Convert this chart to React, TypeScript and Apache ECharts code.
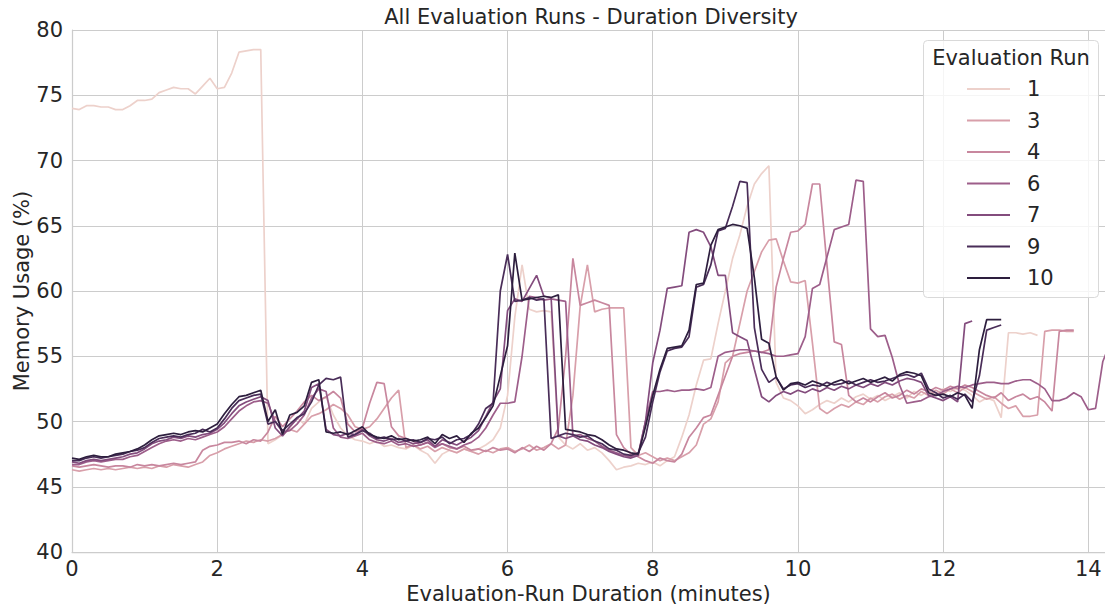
import React, { useEffect, useRef } from "react";
import * as echarts from "echarts";

const TITLE = "All Evaluation Runs - Duration Diversity";
const X_NAME = "Evaluation-Run Duration (minutes)";
const Y_NAME = "Memory Usage (%)";
const LEGEND_TITLE = "Evaluation Run";
const RUN_LABELS = ["1", "3", "4", "6", "7", "9", "10"];
const RUN_COLORS = ["#edd1cb", "#d89faa", "#c8879e", "#9d5e8a", "#834c7d", "#492d58", "#2d1e3e"];
const SAMPLE_STEP = 0.1; // minutes between samples

// memory usage (%) sampled every 0.1 minute from t = 0
const run1 = [
  74.0, 73.9, 74.2, 74.2, 74.1, 74.1, 73.9, 73.9, 74.2, 74.6,
  74.6, 74.7, 75.2, 75.4, 75.6, 75.5, 75.5, 75.1, 75.7, 76.3,
  75.5, 75.6, 76.7, 78.3, 78.4, 78.5, 78.5, 48.3, 48.6, 49.0,
  49.5, 50.3, 49.8, 51.0, 51.5, 51.9, 50.5, 49.5, 48.9, 48.6,
  48.5, 48.3, 48.5, 48.1, 48.2, 48.0, 47.9, 48.2, 47.8, 47.5,
  46.8, 47.5, 47.8, 47.6, 47.9, 47.7, 47.9, 48.2, 48.6, 49.5,
  52.0, 58.0, 62.0, 58.6, 58.4, 58.5, 58.4, 48.8, 48.2, 47.9,
  48.3, 47.8, 48.0, 47.6, 47.0, 46.3, 46.5, 46.6, 46.8, 46.7,
  46.9, 46.6, 47.0, 47.3, 48.8, 50.5, 52.8, 54.7, 54.8, 57.5,
  60.0, 62.5, 64.3, 66.5, 68.2, 69.0, 69.6, 53.0, 51.8, 51.6,
  51.2, 50.6, 50.9, 51.3, 51.6, 51.4, 51.8, 51.5, 51.9, 52.1,
  51.7, 52.0, 51.6, 51.9, 52.2, 51.8, 52.3, 52.0, 52.4, 52.1,
  52.5, 52.3, 52.6, 52.4, 52.0, 51.5, 51.8, 51.6, 50.3, 56.8,
  56.8, 56.7, 56.8, 56.6,
];
const run3 = [
  46.3, 46.2, 46.3, 46.4, 46.3, 46.4, 46.3, 46.4, 46.5, 46.4,
  46.5, 46.4, 46.6, 46.5, 46.7, 46.6, 46.5, 46.7, 46.9, 47.4,
  47.6, 47.9, 48.1, 48.3, 48.5, 48.4, 48.6, 48.5, 48.7, 49.0,
  49.4, 49.2, 49.8, 50.4, 50.6, 50.9, 51.3, 51.0, 50.5, 49.6,
  49.4, 49.6, 50.2, 51.0, 51.8, 52.4, 48.0, 48.2, 47.9, 48.1,
  47.7, 48.0, 47.8, 47.6, 47.9, 47.7, 47.5, 47.8, 47.6, 47.9,
  48.0, 47.7, 47.9, 48.2, 47.8, 48.0, 48.3, 47.9, 48.2, 52.0,
  58.8, 62.0, 58.4, 58.6, 58.7, 58.7, 58.7, 48.0, 47.4, 47.6,
  47.3, 47.0, 47.2, 47.0, 47.3, 47.6, 48.2, 49.8, 50.2, 51.5,
  54.5, 55.0, 57.5, 60.0, 61.5, 63.0, 63.9, 64.0, 62.3, 60.7,
  60.6, 60.8, 56.0, 51.0, 50.6, 51.0, 51.3, 51.1, 51.5, 51.3,
  51.8, 51.5, 51.9, 52.1, 51.7, 52.0, 51.8, 52.3, 52.0, 52.4,
  52.1, 52.5, 52.2, 52.6, 52.3, 52.0, 51.7, 51.9, 51.4, 51.0,
  51.2, 50.4, 50.4, 50.5, 56.9, 57.0, 57.0, 56.9, 56.9,
];
const run4 = [
  46.6, 46.5, 46.6, 46.7, 46.6, 46.5, 46.6, 46.6, 46.5, 46.7,
  46.6, 46.7, 46.6, 46.7, 46.8, 46.7, 46.8, 46.9, 47.8, 48.1,
  48.2, 48.4, 48.4, 48.5, 48.3, 48.6, 48.5, 49.2, 50.4, 49.6,
  50.2, 50.8, 51.5, 52.0, 51.6, 51.9, 52.3, 51.8, 49.8, 49.2,
  49.5, 51.4, 53.0, 52.9, 49.6, 48.9, 48.7, 48.5, 48.2, 48.4,
  48.1, 48.3, 48.0, 47.9, 48.1, 47.8, 47.9, 47.7, 48.0, 47.8,
  47.9, 47.6, 48.0, 47.7, 48.1, 47.8, 48.3, 49.5, 55.0, 62.5,
  58.9, 59.1, 59.3, 59.1, 58.9, 49.0, 48.0, 47.5, 47.3, 47.0,
  46.8, 47.2, 47.0, 46.9, 47.5, 48.8, 49.5, 50.3, 50.5, 52.0,
  53.5, 55.0, 55.2, 55.3, 55.4, 55.3, 55.5, 60.3, 62.5, 64.5,
  64.6, 65.1, 68.2, 68.2, 62.0, 56.1, 55.9, 52.0, 51.5, 51.8,
  51.5, 51.9, 52.2, 51.8, 52.0, 52.4, 52.1, 52.5, 52.3, 52.6,
  52.4, 52.7, 52.5, 52.8, 52.6, 52.3, 52.0, 51.8, 52.2, 51.6,
  51.9, 52.1, 51.7, 51.9, 51.5, 50.8, 56.9, 57.0, 57.0,
];
const run6 = [
  46.7, 46.7, 46.9, 47.0, 46.9, 47.0, 47.1, 47.1, 47.3, 47.4,
  47.7, 48.0, 48.3, 48.5, 48.6, 48.5, 48.7, 48.6, 48.8, 49.0,
  49.2, 49.6, 50.2, 50.8, 51.2, 51.5, 51.6, 51.4, 50.0, 49.2,
  49.3, 49.8, 50.5, 51.8, 52.5, 52.3, 49.5, 48.8, 48.7, 48.9,
  49.1, 48.6, 48.4, 48.3, 48.5, 48.2, 48.3, 48.1, 48.2, 48.4,
  48.0, 48.3, 48.1, 47.9, 48.2, 48.4, 48.8, 49.5, 50.5, 51.4,
  51.4, 51.5, 55.0, 59.6, 59.5, 59.3, 59.4, 59.3, 59.2, 48.9,
  49.0, 48.7, 48.5, 48.1, 47.8, 47.6, 47.4, 47.3, 47.5, 50.0,
  52.3, 52.3, 52.4, 52.3, 52.4, 52.4, 52.5, 52.4, 52.6, 55.0,
  55.3, 55.4, 55.5, 55.5, 55.4, 55.3, 55.2, 55.0, 55.0, 55.1,
  55.2, 56.5, 60.2, 60.5, 62.6, 64.7, 64.9, 65.1, 68.5, 68.4,
  57.1, 56.5, 56.6, 54.9, 52.8, 51.4, 51.5, 51.6, 51.9, 52.0,
  52.3, 52.5, 52.7, 52.6, 52.8, 52.9, 53.0, 53.0, 52.9, 52.9,
  53.1, 53.2, 53.2, 52.9, 52.5, 51.6, 51.6, 51.8, 52.2, 51.9,
  50.9, 51.0, 54.6, 56.0,
];
const run7 = [
  46.9, 46.8, 47.0, 47.1, 47.0, 47.1, 47.2, 47.3, 47.5, 47.6,
  47.9, 48.3, 48.5, 48.6, 48.8, 48.7, 48.9, 48.8, 49.0, 49.1,
  49.4, 49.9, 50.6, 51.2, 51.5, 51.7, 51.9, 51.6, 49.5, 48.9,
  49.6, 50.2, 50.8, 52.6, 52.9, 49.4, 49.0, 48.9, 49.1, 49.0,
  49.4, 48.9, 48.6, 48.5, 48.7, 48.4, 48.5, 48.3, 48.4, 48.6,
  48.1, 48.6, 48.4, 48.2, 48.5, 48.8, 49.3, 50.4, 51.5, 52.5,
  58.5, 59.4, 59.2, 60.2, 61.2, 59.6, 59.5, 48.9, 48.7, 48.9,
  48.6, 48.5, 48.2, 48.0, 47.7, 47.5, 47.3, 47.2, 47.4, 50.0,
  54.5, 57.0, 60.2, 60.3, 60.4, 64.5, 64.7, 64.5, 63.4, 61.2,
  61.2, 56.8, 56.5, 56.2, 54.0, 51.9, 51.5, 52.0, 52.3, 52.1,
  52.4, 52.2, 52.5, 52.3, 52.6, 52.4, 52.7, 52.5, 52.8, 52.6,
  52.9, 52.7, 53.0, 52.8, 53.1, 53.3, 53.2, 53.0, 52.0, 51.8,
  51.6, 51.9, 51.5, 57.5, 57.7,
];
const run9 = [
  47.0, 47.0, 47.2, 47.3, 47.2, 47.3, 47.4, 47.5, 47.7, 47.8,
  48.0, 48.4, 48.7, 48.8, 48.9, 48.8, 49.0, 49.1, 49.4, 49.2,
  49.5, 50.2, 51.0, 51.6, 51.8, 52.0, 52.1, 49.8, 50.0, 49.3,
  49.8, 50.3, 50.6, 51.5, 52.8, 53.3, 53.2, 53.4, 48.8, 49.0,
  49.3, 49.1, 48.7, 48.8, 48.6, 48.7, 48.5, 48.6, 48.4, 48.7,
  48.6, 48.8, 48.3, 48.6, 48.7, 49.0, 49.8, 51.0, 51.4, 60.0,
  62.8, 59.2, 59.3, 59.5, 59.3, 59.4, 48.7, 48.9, 49.1, 49.0,
  48.8, 48.9, 48.5, 48.3, 47.9, 47.8, 47.5, 47.4, 47.6, 48.8,
  51.5, 53.8, 55.4, 55.6, 55.7, 56.5, 60.3, 60.5, 62.0, 64.6,
  64.8, 66.5, 68.4, 68.3, 57.2, 54.0, 53.0, 53.4, 52.5, 52.8,
  52.9, 52.6, 52.8, 52.7, 53.0, 52.8, 52.9, 53.1, 52.8, 53.0,
  53.2, 53.0, 53.1, 53.3, 53.5, 53.6, 53.4, 53.7, 52.5, 52.2,
  51.8, 52.0, 51.7, 52.1, 51.5, 53.5, 57.0, 57.2, 57.4,
];
const run10 = [
  47.2, 47.1, 47.3, 47.4, 47.3, 47.3, 47.5, 47.6, 47.7, 47.9,
  48.2, 48.6, 48.9, 49.0, 49.1, 49.0, 49.2, 49.3, 49.2, 49.5,
  49.8, 50.6, 51.3, 51.9, 52.0, 52.2, 52.4, 50.0, 50.9, 49.0,
  50.5, 50.7, 51.2, 53.0, 53.2, 49.2, 49.1, 49.2, 49.0, 49.3,
  49.6, 49.0, 48.8, 48.7, 48.9, 48.6, 48.7, 48.5, 48.6, 48.8,
  48.3, 49.0, 48.7, 48.9, 48.4, 49.1, 49.5, 50.3, 51.2, 53.5,
  55.8, 62.9, 59.3, 59.4, 59.5, 59.6, 59.5, 59.7, 49.4, 49.3,
  49.2, 49.0, 48.9, 48.6, 48.2, 47.9, 47.8, 47.6, 47.5, 49.6,
  52.0, 54.0, 55.6, 55.7, 55.8, 57.0, 60.5, 60.6, 63.5, 64.7,
  64.9, 65.1, 65.0, 64.8, 61.0, 56.3, 56.0, 53.4, 52.4, 52.9,
  53.0, 52.8, 53.1, 52.9, 52.7, 53.0, 53.2, 52.9, 53.1, 53.3,
  53.0, 53.2, 53.4, 53.1, 53.6, 53.8, 53.7, 53.5, 52.2, 52.0,
  52.1, 51.9, 52.2, 52.0, 51.0, 55.5, 57.8, 57.8, 57.8,
];

const RUNS = [run1, run3, run4, run6, run7, run9, run10];

const FONT = "DejaVu Sans";
const FONT_SIZE = 21;
const TEXT_COLOR = "#262626";
const GRID_COLOR = "#cccccc";

export default function App() {
  const ref = useRef<HTMLDivElement>(null);

  useEffect(() => {
    if (!ref.current) return;
    const chart = echarts.init(ref.current, null, { renderer: "svg" });

    const series = RUNS.map((vals, k) => ({
      name: RUN_LABELS[k],
      type: "line",
      data: vals.map((v, i) => [Number((i * SAMPLE_STEP).toFixed(1)), v]),
      showSymbol: false,
      symbol: "none",
      clip: true,
      z: 2 + k * 0.01,
      color: RUN_COLORS[k],
      lineStyle: { width: 1.7, color: RUN_COLORS[k] },
      emphasis: { disabled: true },
    }));

    chart.setOption({
      animation: false,
      backgroundColor: "#ffffff",
      textStyle: { fontFamily: FONT },
      title: {
        text: TITLE,
        left: 591,
        top: 6,
        padding: 0,
        textAlign: "center",
        textStyle: { fontFamily: FONT, fontSize: FONT_SIZE, fontWeight: "normal", color: TEXT_COLOR },
      },
      grid: {
        left: 72,
        right: 0,
        top: 30,
        bottom: 55,
        containLabel: false,
        outerBoundsMode: "none",
      },
      xAxis: {
        type: "value",
        min: 0,
        max: 14.23,
        interval: 2,
        name: X_NAME,
        nameLocation: "middle",
        nameGap: 31,
        nameMoveOverlap: false,
        nameTextStyle: { fontFamily: FONT, fontSize: FONT_SIZE, color: TEXT_COLOR },
        axisLine: { show: true, lineStyle: { color: GRID_COLOR, width: 1.25 } },
        axisTick: { show: false },
        axisLabel: { fontFamily: FONT, fontSize: FONT_SIZE, color: TEXT_COLOR, margin: 6, showMaxLabel: false },
        splitLine: { show: true, lineStyle: { color: GRID_COLOR, width: 1 } },
      },
      yAxis: {
        type: "value",
        min: 40,
        max: 80,
        interval: 5,
        name: Y_NAME,
        nameLocation: "middle",
        nameGap: 40,
        nameMoveOverlap: false,
        nameTextStyle: { fontFamily: FONT, fontSize: FONT_SIZE, color: TEXT_COLOR },
        axisLine: { show: true, lineStyle: { color: GRID_COLOR, width: 1.25 } },
        axisTick: { show: false },
        axisLabel: { fontFamily: FONT, fontSize: FONT_SIZE, color: TEXT_COLOR, margin: 9 },
        splitLine: { show: true, lineStyle: { color: GRID_COLOR, width: 1 } },
      },
      legend: {
        data: RUN_LABELS,
        orient: "vertical",
        left: 967,
        top: 77,
        padding: 0,
        itemGap: 7.5,
        itemWidth: 43,
        itemHeight: 2,
        icon: "rect",
        selectedMode: false,
        z: 20,
        textStyle: {
          fontFamily: FONT,
          fontSize: FONT_SIZE,
          color: TEXT_COLOR,
          lineHeight: 24,
          padding: [0, 0, 0, 12],
        },
      },
      graphic: [
        {
          type: "rect",
          z: 15,
          shape: { x: 923.5, y: 40.5, width: 175, height: 257, r: 4 },
          style: { fill: "rgba(255,255,255,0.8)", stroke: "#d9d9d9", lineWidth: 1 },
        },
        {
          type: "text",
          z: 21,
          x: 1011,
          y: 58,
          style: {
            text: LEGEND_TITLE,
            font: `${FONT_SIZE}px '${FONT}'`,
            fill: TEXT_COLOR,
            textAlign: "center",
            textVerticalAlign: "middle",
          },
        },
      ],
      series,
    });

    return () => chart.dispose();
  }, []);

  return (
    <div
      ref={ref}
      style={{ position: "absolute", left: 0, top: 0, width: 1105, height: 607 }}
    />
  );
}
